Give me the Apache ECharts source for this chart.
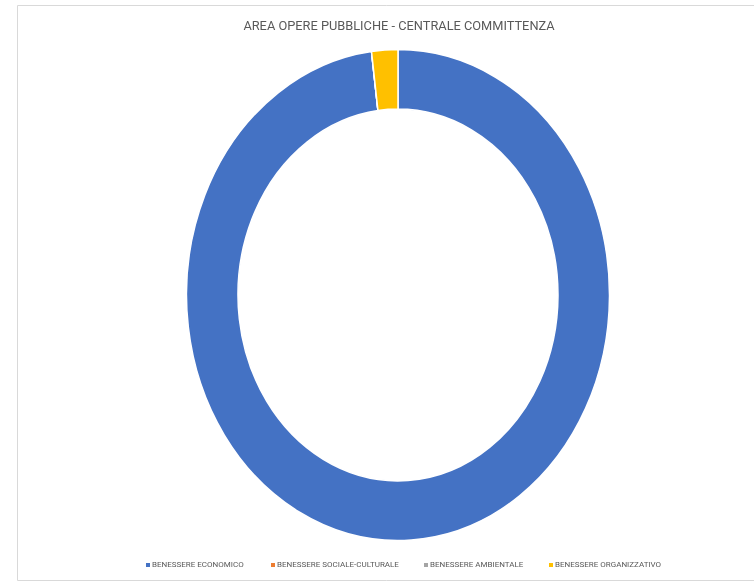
<!DOCTYPE html>
<html>
<head>
<meta charset="utf-8">
<script src="https://cdn.jsdelivr.net/npm/echarts@6/dist/echarts.min.js"></script>
<style>
html,body{margin:0;padding:0;background:#fff;}
#wrap{position:relative;width:754px;height:588px;overflow:hidden;}
#pie{position:absolute;left:0;top:0;width:754px;height:588px;transform-origin:398px 295px;transform:scaleY(1.161);}
#txt{position:absolute;left:0;top:0;width:754px;height:588px;}
</style>
</head>
<body>
<div id="wrap"><div id="pie"></div><div id="txt"></div></div>
<script>
const chartTitle = 'AREA OPERE PUBBLICHE - CENTRALE COMMITTENZA';
const categories = ['BENESSERE ECONOMICO', 'BENESSERE SOCIALE-CULTURALE', 'BENESSERE AMBIENTALE', 'BENESSERE ORGANIZZATIVO'];
const values = [98, 0, 0, 2];
const colors = ['#4472C4', '#ED7D31', '#A5A5A5', '#FFC000'];

const pieData = categories.map((c, i) => ({ name: c, value: values[i], itemStyle: { color: colors[i] } }));

const pieChart = echarts.init(document.getElementById('pie'), null, { renderer: 'svg' });
pieChart.setOption({
  animation: false,
  series: [{
    type: 'pie',
    center: [398, 295],
    radius: [160, 211.5],
    startAngle: 90,
    clockwise: true,
    label: { show: false },
    labelLine: { show: false },
    silent: true,
    itemStyle: { borderColor: '#ffffff', borderWidth: 1.5 },
    data: pieData
  }]
});

const legendLefts = [141, 266, 419, 544];
const legends = categories.map((c, i) => ({
  left: legendLefts[i],
  top: 556,
  icon: 'rect',
  itemWidth: 4,
  itemHeight: 4,
  selectedMode: false,
  textStyle: { fontFamily: 'Roboto', fontSize: 8, color: '#595959', padding: [0, 0, 0, -3] },
  data: [c]
}));

const txtChart = echarts.init(document.getElementById('txt'));
txtChart.setOption({
  animation: false,
  backgroundColor: 'transparent',
  color: colors,
  graphic: [{
    type: 'rect',
    shape: { x: 17.5, y: 5.5, width: 800, height: 575 },
    style: { fill: 'none', stroke: '#d9d9d9', lineWidth: 1 },
    silent: true
  }],
  title: {
    text: chartTitle,
    left: 394,
    top: 15,
    textAlign: 'center',
    textStyle: { fontFamily: 'Roboto', fontSize: 12.8, fontWeight: 'normal', color: '#595959' }
  },
  legend: legends,
  series: [{
    type: 'pie',
    center: [-100, -100],
    radius: [0, 1],
    silent: true,
    label: { show: false },
    labelLine: { show: false },
    data: pieData
  }]
});
</script>
</body>
</html>
